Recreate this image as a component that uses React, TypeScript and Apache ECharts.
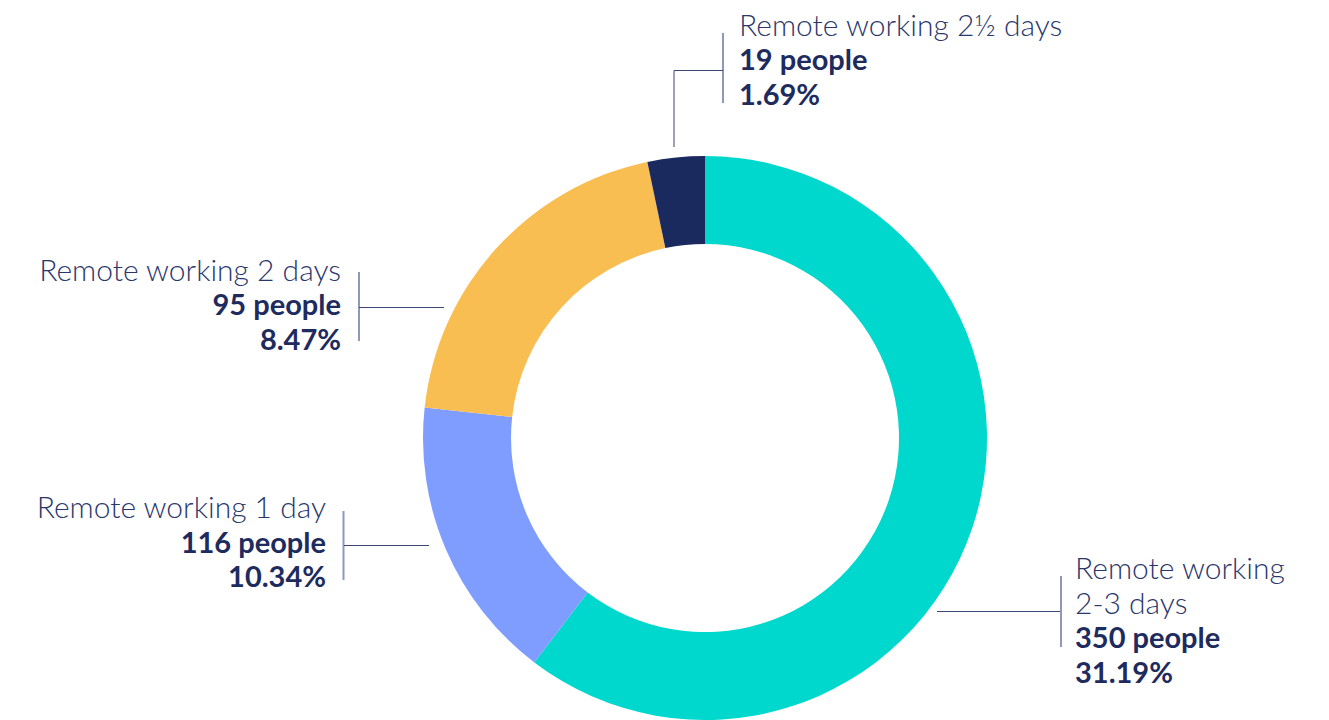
import { useEffect, useRef } from 'react';
import * as echarts from 'echarts';

// ---- data ----
const categories = ['Remote working 2-3 days', 'Remote working 1 day', 'Remote working 2 days', 'Remote working 2½ days'];
const sliceValues = [350, 95, 116, 19];
const nameLines = [['Remote working', '2-3 days'], ['Remote working 1 day'], ['Remote working 2 days'], ['Remote working 2½ days']];
const peopleLabels = ['350 people', '116 people', '95 people', '19 people'];
const percentLabels = ['31.19%', '10.34%', '8.47%', '1.69%'];
const colors = ['#00D8CD', '#7F9CFF', '#F9BE52', '#1B2A5E'];

// ---- layout (pixels) ----
const FONT = 'Lato, "Open Sans", sans-serif';
const LH = 34.7;
const labelAnchors = [
  { x: 1075, top: 549.8, align: 'left', line: [[937, 611.5], [1000, 611.5], [1060, 611.5]] },
  { x: 326, top: 489, align: 'right', line: [[429, 545.5], [390, 545.5], [344, 545.5]] },
  { x: 341, top: 251.5, align: 'right', line: [[444, 307.5], [400, 307.5], [359, 307.5]] },
  { x: 739, top: 6.5, align: 'left', line: [[674, 147], [674, 70.5], [723, 70.5]] },
];
const bars = [
  { x: 1061, y1: 576, y2: 647 },
  { x: 343.5, y1: 511, y2: 580 },
  { x: 359, y1: 272, y2: 341 },
  { x: 723, y1: 33, y2: 103 },
];

export default function App() {
  const ref = useRef<HTMLDivElement>(null);
  useEffect(() => {
    document.body.style.margin = '0';
    const chart = echarts.init(ref.current!, null, { renderer: 'svg' });
    chart.setOption({
      animation: false,
      backgroundColor: '#ffffff',
      series: [
        {
          type: 'pie',
          center: [705, 438],
          radius: [194, 282],
          startAngle: 90,
          clockwise: true,
          avoidLabelOverlap: false,
          data: categories.map((name, i) => ({
            name,
            value: sliceValues[i],
            itemStyle: { color: colors[i] },
            label: { align: labelAnchors[i].align },
          })),
          label: {
            show: true,
            position: 'outside',
            formatter: (p: any) => {
              const i = p.dataIndex;
              return [
                ...nameLines[i].map((t) => `{n|${t}}`),
                `{b|${peopleLabels[i]}}`,
                `{b|${percentLabels[i]}}`,
              ].join('\n');
            },
            rich: {
              n: { fontFamily: FONT, fontWeight: 300, fontSize: 30, color: '#2A376C', lineHeight: LH },
              b: { fontFamily: FONT, fontWeight: 700, fontSize: 29, color: '#1E2B5E', lineHeight: LH },
            },
          },
          labelLine: {
            show: true,
            lineStyle: { color: '#3A4673', width: 1 },
          },
          labelLayout: (params: any) => {
            const L = labelAnchors[params.dataIndex];
            return {
              x: L.x,
              y: L.top,
              align: L.align,
              verticalAlign: 'top',
              labelLinePoints: L.line,
            };
          },
          emphasis: { disabled: true },
        },
      ],
      graphic: bars.map((b) => ({
        type: 'line',
        silent: true,
        shape: { x1: b.x, y1: b.y1, x2: b.x, y2: b.y2 },
        style: { stroke: '#8F97BA', lineWidth: 2 },
      })),
    });
    return () => chart.dispose();
  }, []);
  return <div ref={ref} style={{ position: 'absolute', left: 0, top: 0, width: 1329, height: 720 }} />;
}
